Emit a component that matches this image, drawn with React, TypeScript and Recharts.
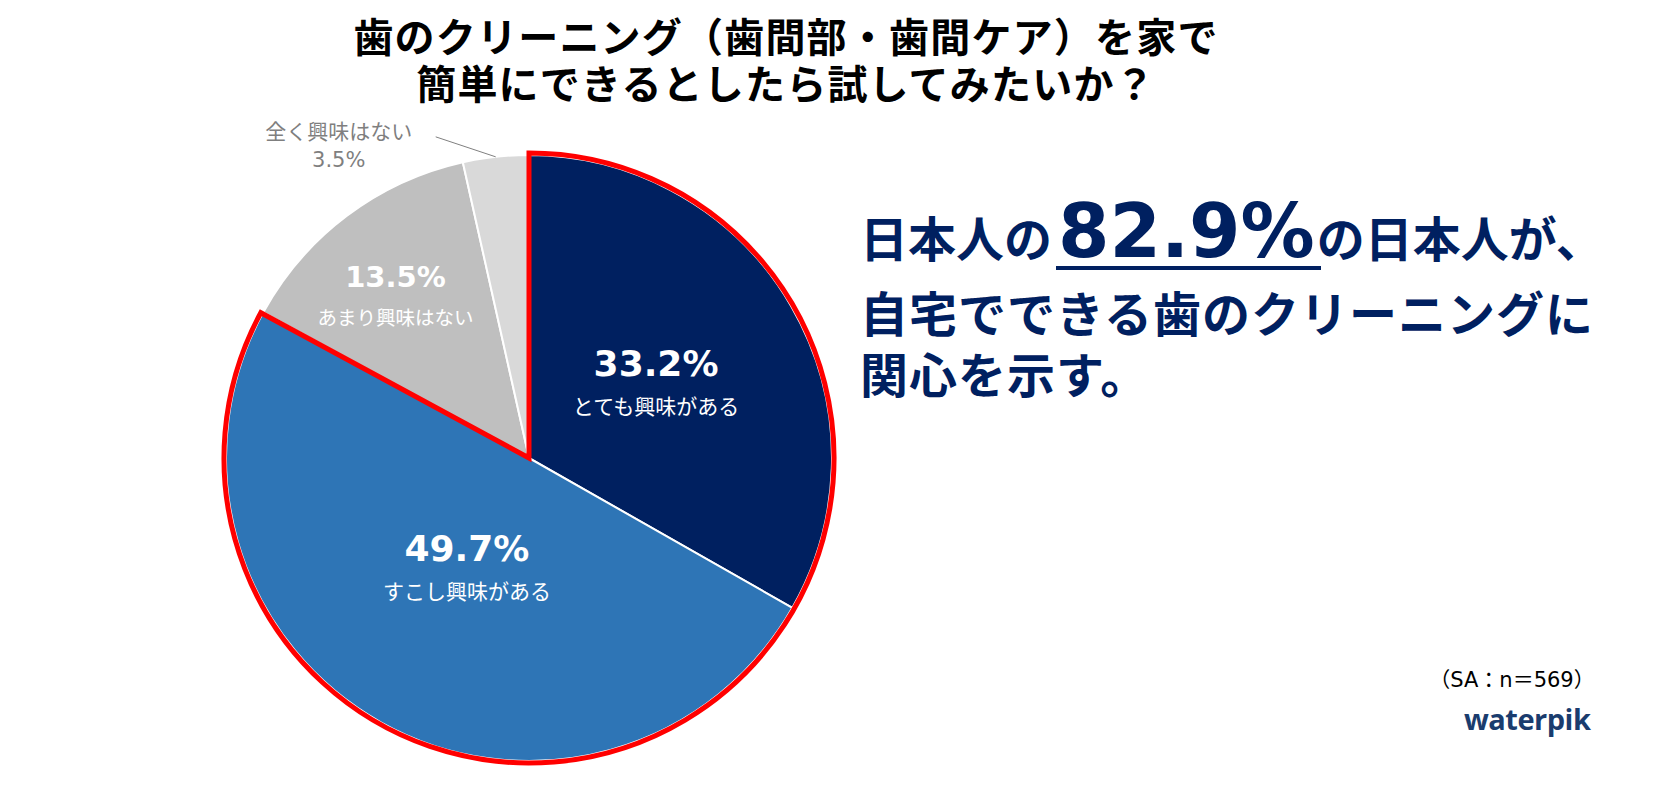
import { PieChart, Pie, Cell } from 'recharts';

const categories = ['とても興味がある', 'すこし興味がある', 'あまり興味はない', '全く興味はない'];
const shares = [33.2, 49.7, 13.5, 3.5];
const titleLines = ['歯のクリーニング（歯間部・歯間ケア）を家で', '簡単にできるとしたら試してみたいか？'];
const sampleNote = '（SA：n＝569）';

const COLORS = ['#002060', '#2E75B6', '#BFBFBF', '#D9D9D9'];
const LABEL_R = [0.485, 0.42, 0.695];
const LABEL_SHIFT = [[0, 0], [0, 0], [-7, 5]];
const PCT_SIZE = [36, 36, 29];
const SUB_SIZE = [21, 21, 19.5];
const RAD = Math.PI / 180;
const JP = '"Noto Sans CJK JP", sans-serif';
const NUM = '"DejaVu Sans", "Noto Sans CJK JP", sans-serif';
const NAVY = '#002060';

const data = categories.map((name, i) => ({ name, value: shares[i] }));
const interested = shares[0] + shares[1];
const outline = [
  { name: '関心あり', value: interested },
  { name: 'その他', value: 100 - interested },
];

const renderLabel = (props: any) => {
  const { cx, cy, midAngle, outerRadius, index } = props;
  const cos = Math.cos(-midAngle * RAD);
  const sin = Math.sin(-midAngle * RAD);
  const pct = `${shares[index].toFixed(1)}%`;
  if (index === 3) {
    // small slice: label outside with a leader line
    const ex = cx + outerRadius * cos;
    const ey = cy + outerRadius * sin;
    const lx = ex - 60;
    const ly = ey - 20;
    return (
      <g>
        <line x1={ex} y1={ey} x2={lx} y2={ly} stroke="#808080" strokeWidth={1} />
        <text x={lx - 97} y={ly + 2} textAnchor="middle" fill="#7F7F7F" fontSize={21} fontFamily={JP}>
          {categories[index]}
        </text>
        <text x={lx - 97} y={ly + 30} textAnchor="middle" fill="#7F7F7F" fontSize={21} fontFamily={NUM}>
          {pct}
        </text>
      </g>
    );
  }
  const r = outerRadius * LABEL_R[index];
  const x = cx + r * cos + LABEL_SHIFT[index][0];
  const y = cy + r * sin + LABEL_SHIFT[index][1];
  return (
    <g>
      <text x={x} y={y - 8} textAnchor="middle" fill="#fff" fontSize={PCT_SIZE[index]} fontWeight="bold" fontFamily={NUM}>
        {pct}
      </text>
      <text x={x} y={y + 30} textAnchor="middle" fill="#fff" fontSize={SUB_SIZE[index]} fontFamily={JP}>
        {categories[index]}
      </text>
    </g>
  );
};

export default function App() {
  return (
    <div style={{ position: 'absolute', left: 0, top: 0, width: 1660, height: 789, background: '#fff' }}>
      <PieChart width={1660} height={789} margin={{ top: 0, right: 0, bottom: 0, left: 0 }}>
        <Pie
          data={data}
          dataKey="value"
          cx={529}
          cy={458}
          outerRadius={303}
          startAngle={90}
          endAngle={-270}
          stroke="#fff"
          strokeWidth={2}
          label={renderLabel}
          labelLine={false}
          isAnimationActive={false}
        >
          {data.map((d, i) => (
            <Cell key={d.name} fill={COLORS[i]} />
          ))}
        </Pie>
        <Pie
          data={outline}
          dataKey="value"
          cx={529}
          cy={458}
          outerRadius={305}
          startAngle={90}
          endAngle={-270}
          isAnimationActive={false}
        >
          <Cell fill="none" stroke="#FF0000" strokeWidth={5} />
          <Cell fill="none" stroke="none" />
        </Pie>
      </PieChart>

      <svg width={1660} height={789} style={{ position: 'absolute', left: 0, top: 0, pointerEvents: 'none' }}>
        {titleLines.map((t, i) => (
          <text key={t} x={786} y={52 + i * 47} textAnchor="middle" fontSize={40} fontWeight="bold" fontFamily={JP} fill="#000" letterSpacing={1.2}>
            {t}
          </text>
        ))}

        <text y={257} fill={NAVY} fontWeight="bold" fontFamily={JP} fontSize={48}>
          <tspan x={860}>日本人の</tspan>
          <tspan fontFamily={NUM} fontSize={74} dx={6}>{`${interested.toFixed(1)}%`}</tspan>
          <tspan dx={2}>の日本人が、</tspan>
        </text>
        <rect x={1056} y={266} width={265} height={4} fill={NAVY} />
        <text x={860} y={332} fill={NAVY} fontWeight="bold" fontFamily={JP} fontSize={48} letterSpacing={1}>
          自宅でできる歯のクリーニングに
        </text>
        <text x={860} y={393} fill={NAVY} fontWeight="bold" fontFamily={JP} fontSize={48} letterSpacing={1}>
          関心を示す。
        </text>

        <text x={1512} y={687} textAnchor="middle" fill="#000" fontSize={21} fontFamily={NUM}>
          {sampleNote}
        </text>
        <text x={1464} y={730} fill="#1A3C6E" fontSize={29} fontWeight="bold" fontFamily='"Open Sans", sans-serif' letterSpacing={-0.5}>
          waterpik
        </text>
      </svg>
    </div>
  );
}
